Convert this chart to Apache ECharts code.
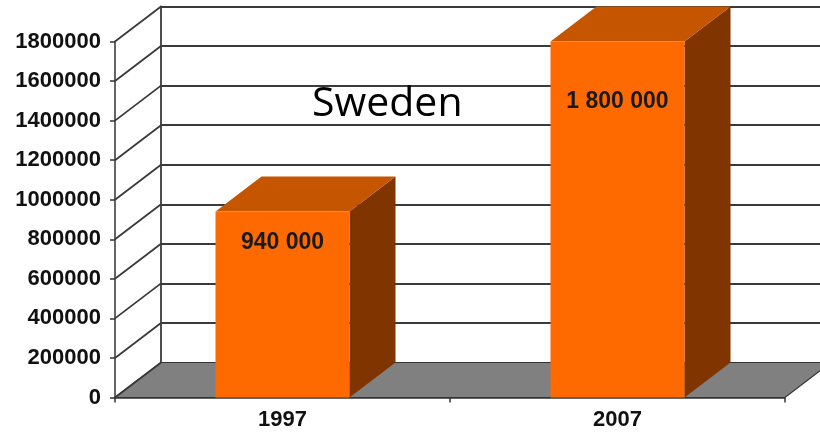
<!DOCTYPE html>
<html>
<head>
<meta charset="utf-8">
<script src="https://cdn.jsdelivr.net/npm/echarts@6/dist/echarts.min.js"></script>
<style>html,body{margin:0;padding:0;background:#fff}#c{width:820px;height:432px}</style>
</head>
<body>
<div id="c"></div>
<script>
const categories = ['1997', '2007'];
const values = [940000, 1800000];
const barLabels = ['940 000', '1 800 000'];
const yTicks = [0, 200000, 400000, 600000, 800000, 1000000, 1200000, 1400000, 1600000, 1800000];
const titleText = 'Sweden';

const DX = 46, DY = -35;
const FRONT = '#FF6A00', TOP = '#C65500', SIDE = '#803500';
const LINE = '#3a3a3a';

const chart = echarts.init(document.getElementById('c'), null, {renderer: 'canvas'});

const option = {
  animation: false,
  backgroundColor: '#fff',
  title: {
    text: titleText,
    left: 307, top: 79,
    textStyle: {fontFamily: 'Open Sans', fontSize: 41, fontWeight: 'normal', color: '#000'}
  },
  grid: [
    {left: 115, right: 35, top: 41.5, bottom: 34.5},
    {left: 115 + DX, right: 35 - DX, top: 41.5 + DY, bottom: 34.5 - DY}
  ],
  xAxis: [
    {
      gridIndex: 0, type: 'category', data: categories,
      axisLine: {show: true, lineStyle: {color: '#333', width: 1.5}},
      axisTick: {show: true, length: 5, lineStyle: {color: '#333', width: 1.5}},
      axisLabel: {margin: 11, fontFamily: 'Liberation Sans', fontWeight: 'bold', fontSize: 22, color: '#111'}
    },
    {gridIndex: 1, type: 'category', data: categories, show: false}
  ],
  yAxis: [
    {
      gridIndex: 0, type: 'value', min: 0, max: 1800000, interval: 200000,
      axisLine: {show: true, lineStyle: {color: '#333', width: 1.5}},
      axisTick: {show: true, length: 5, lineStyle: {color: '#333', width: 1.5}},
      splitLine: {show: false},
      axisLabel: {margin: 14, fontFamily: 'Liberation Sans', fontWeight: 'bold', fontSize: 22, color: '#111',
        formatter: v => String(v)}
    },
    {
      gridIndex: 1, type: 'value', min: 0, max: 1800000, interval: 200000,
      axisLine: {show: true, lineStyle: {color: LINE, width: 1.8}},
      axisTick: {show: false},
      axisLabel: {show: false},
      splitLine: {show: true, lineStyle: {color: LINE, width: 1.8}}
    }
  ],
  series: [
    {
      type: 'custom', xAxisIndex: 0, yAxisIndex: 0, z: 1,
      data: [[0, 0]],
      renderItem: function (params, api) {
        const cs = params.coordSys;
        const y = api.coord([0, 0])[1];
        const x0 = cs.x, x1 = cs.x + cs.width;
        return {
          type: 'polygon',
          shape: {points: [[x0, y], [x1, y], [x1 + DX, y + DY], [x0 + DX, y + DY]]},
          style: {fill: '#808080', stroke: '#333', lineWidth: 1.2}
        };
      }
    },
    {
      type: 'custom', xAxisIndex: 0, yAxisIndex: 0, z: 2,
      data: yTicks.map(v => [0, v]),
      renderItem: function (params, api) {
        const cs = params.coordSys;
        const y = api.coord([0, api.value(1)])[1];
        return {
          type: 'line',
          shape: {x1: cs.x, y1: y, x2: cs.x + DX, y2: y + DY},
          style: {stroke: LINE, lineWidth: 1.8}
        };
      }
    },
    {
      type: 'custom', xAxisIndex: 0, yAxisIndex: 0, z: 3,
      data: values.map((v, i) => [i, v]),
      renderItem: function (params, api) {
        const i = api.value(0), v = api.value(1);
        const t = api.coord([i, v]);
        const b = api.coord([i, 0]);
        const bw = api.size([1, 0])[0] * 0.4;
        const l = t[0] - bw / 2, r = t[0] + bw / 2, ty = t[1], by = b[1];
        return {
          type: 'group',
          children: [
            {type: 'polygon', shape: {points: [[r, ty], [r + DX, ty + DY], [r + DX, by + DY], [r, by]]}, style: {fill: SIDE}},
            {type: 'polygon', shape: {points: [[l, ty], [r, ty], [r + DX, ty + DY], [l + DX, ty + DY]]}, style: {fill: TOP}},
            {type: 'rect', shape: {x: l, y: ty, width: bw, height: by - ty}, style: {fill: FRONT}},
            {type: 'text', x: t[0], y: ty + (by - ty) * 0.168, style: {
              text: barLabels[i], textAlign: 'center', textVerticalAlign: 'middle',
              fontFamily: 'Liberation Sans', fontWeight: 'bold', fontSize: 23, fill: '#1a1a1a'}}
          ]
        };
      }
    }
  ]
};
chart.setOption(option);
</script>
</body>
</html>
